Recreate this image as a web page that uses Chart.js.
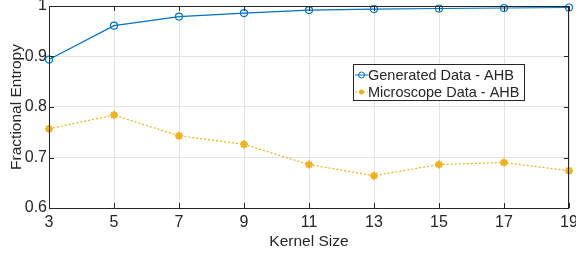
<!DOCTYPE html>
<html>
<head>
<meta charset="utf-8">
<script src="https://cdn.jsdelivr.net/npm/chart.js@4/dist/chart.umd.min.js"></script>
<style>
  html, body { margin: 0; padding: 0; background: #fff; }
  #wrap { width: 576px; height: 255px; }
</style>
</head>
<body>
<div id="wrap"><canvas id="chart"></canvas></div>
<script>
const kernelSizes = [3, 5, 7, 9, 11, 13, 15, 17, 19];
const generatedData = [0.894, 0.961, 0.979, 0.986, 0.992, 0.994, 0.995, 0.996, 0.997];
const microscopeData = [0.757, 0.784, 0.743, 0.726, 0.686, 0.664, 0.686, 0.690, 0.674];
const seriesNames = ['Generated Data - AHB', 'Microscope Data - AHB'];

const BLUE = '#0072BD';
const YELLOW = '#EDB120';
const FONT = 'Liberation Sans, Arial, sans-serif';

// frame around the plot with inward tick marks, like matlab's box on
const framePlugin = {
  id: 'frame',
  afterDraw(chart) {
    const { ctx, chartArea: a, scales } = chart;
    ctx.save();
    ctx.strokeStyle = '#262626';
    ctx.lineWidth = 1;
    ctx.strokeRect(a.left + 0.5, a.top + 0.5, a.right - a.left - 1, a.bottom - a.top);
    ctx.beginPath();
    scales.x.ticks.forEach(t => {
      const px = Math.round(scales.x.getPixelForValue(t.value)) + 0.5;
      ctx.moveTo(px, a.bottom); ctx.lineTo(px, a.bottom - 5);
      ctx.moveTo(px, a.top); ctx.lineTo(px, a.top + 5);
    });
    scales.y.ticks.forEach(t => {
      const py = Math.round(scales.y.getPixelForValue(t.value)) + 0.5;
      ctx.moveTo(a.left, py); ctx.lineTo(a.left + 5, py);
      ctx.moveTo(a.right, py); ctx.lineTo(a.right - 5, py);
    });
    ctx.stroke();
    ctx.restore();
  }
};

// legend box drawn inside the axes
const legendPlugin = {
  id: 'boxLegend',
  afterDraw(chart) {
    const { ctx } = chart;
    const x = 353, y = 64, w = 171, h = 36;
    ctx.save();
    ctx.fillStyle = '#fff';
    ctx.fillRect(x, y, w, h);
    ctx.strokeStyle = '#262626';
    ctx.lineWidth = 1;
    ctx.strokeRect(x + 0.5, y + 0.5, w, h);
    ctx.font = '14.5px ' + FONT;
    ctx.textBaseline = 'middle';
    chart.data.datasets.forEach((ds, i) => {
      const cy = y + 11 + i * 17;
      ctx.strokeStyle = ds.borderColor;
      ctx.lineWidth = 1;
      ctx.setLineDash(ds.borderDash || []);
      ctx.beginPath();
      ctx.moveTo(x + 2, cy); ctx.lineTo(x + 15, cy);
      ctx.stroke();
      ctx.setLineDash([]);
      if (i === 0) {
        ctx.beginPath();
        ctx.arc(x + 8.5, cy, 3, 0, Math.PI * 2);
        ctx.stroke();
      } else {
        ctx.fillStyle = ds.borderColor;
        ctx.beginPath();
        ctx.arc(x + 8.5, cy, 2.5, 0, Math.PI * 2);
        ctx.fill();
      }
      ctx.fillStyle = '#262626';
      ctx.fillText(ds.label, x + 15, cy + 1);
    });
    ctx.restore();
  }
};

new Chart(document.getElementById('chart'), {
  type: 'line',
  data: {
    datasets: [
      {
        label: seriesNames[0],
        data: kernelSizes.map((k, i) => ({ x: k, y: generatedData[i] })),
        borderColor: BLUE,
        backgroundColor: 'rgba(0,0,0,0)',
        borderWidth: 1.2,
        pointStyle: 'circle',
        pointRadius: 3.5,
        pointBorderWidth: 1.2,
        pointBorderColor: BLUE,
        pointBackgroundColor: 'rgba(0,0,0,0)',
        tension: 0
      },
      {
        label: seriesNames[1],
        data: kernelSizes.map((k, i) => ({ x: k, y: microscopeData[i] })),
        borderColor: YELLOW,
        backgroundColor: YELLOW,
        borderWidth: 1.2,
        borderDash: [2, 2],
        pointStyle: 'star',
        pointRadius: 4,
        pointBorderWidth: 2,
        pointBorderColor: YELLOW,
        pointBackgroundColor: YELLOW,
        tension: 0
      }
    ]
  },
  options: {
    responsive: true,
    maintainAspectRatio: false,
    animation: false,
    clip: false,
    layout: { padding: { top: 6, right: 7, left: 0, bottom: 0 } },
    plugins: {
      legend: { display: false },
      tooltip: { enabled: false }
    },
    scales: {
      x: {
        type: 'linear',
        min: 3,
        max: 19,
        ticks: { stepSize: 2, color: '#262626', font: { family: FONT, size: 16 }, padding: 5 },
        grid: { color: '#e3e3e3', tickLength: 0 },
        border: { display: false },
        title: { display: true, text: 'Kernel Size', color: '#262626', font: { family: FONT, size: 15.5 }, padding: { top: 0 } },
        afterFit(s) { s.height = 47; s.paddingLeft = 0; s.paddingRight = 0; }
      },
      y: {
        min: 0.6,
        max: 1,
        ticks: {
          stepSize: 0.1,
          color: '#262626',
          font: { family: FONT, size: 16 },
          padding: 2,
          callback: v => (Math.abs(v - 1) < 1e-9 ? '1' : v.toFixed(1))
        },
        grid: { color: '#e3e3e3', tickLength: 0 },
        border: { display: false },
        title: { display: true, text: 'Fractional Entropy', color: '#262626', font: { family: FONT, size: 15.5 }, padding: { top: 7, bottom: 0 } },
        afterFit(s) { s.width = 49; s.paddingTop = 0; s.paddingBottom = 0; }
      }
    }
  },
  plugins: [framePlugin, legendPlugin]
});
</script>
</body>
</html>
